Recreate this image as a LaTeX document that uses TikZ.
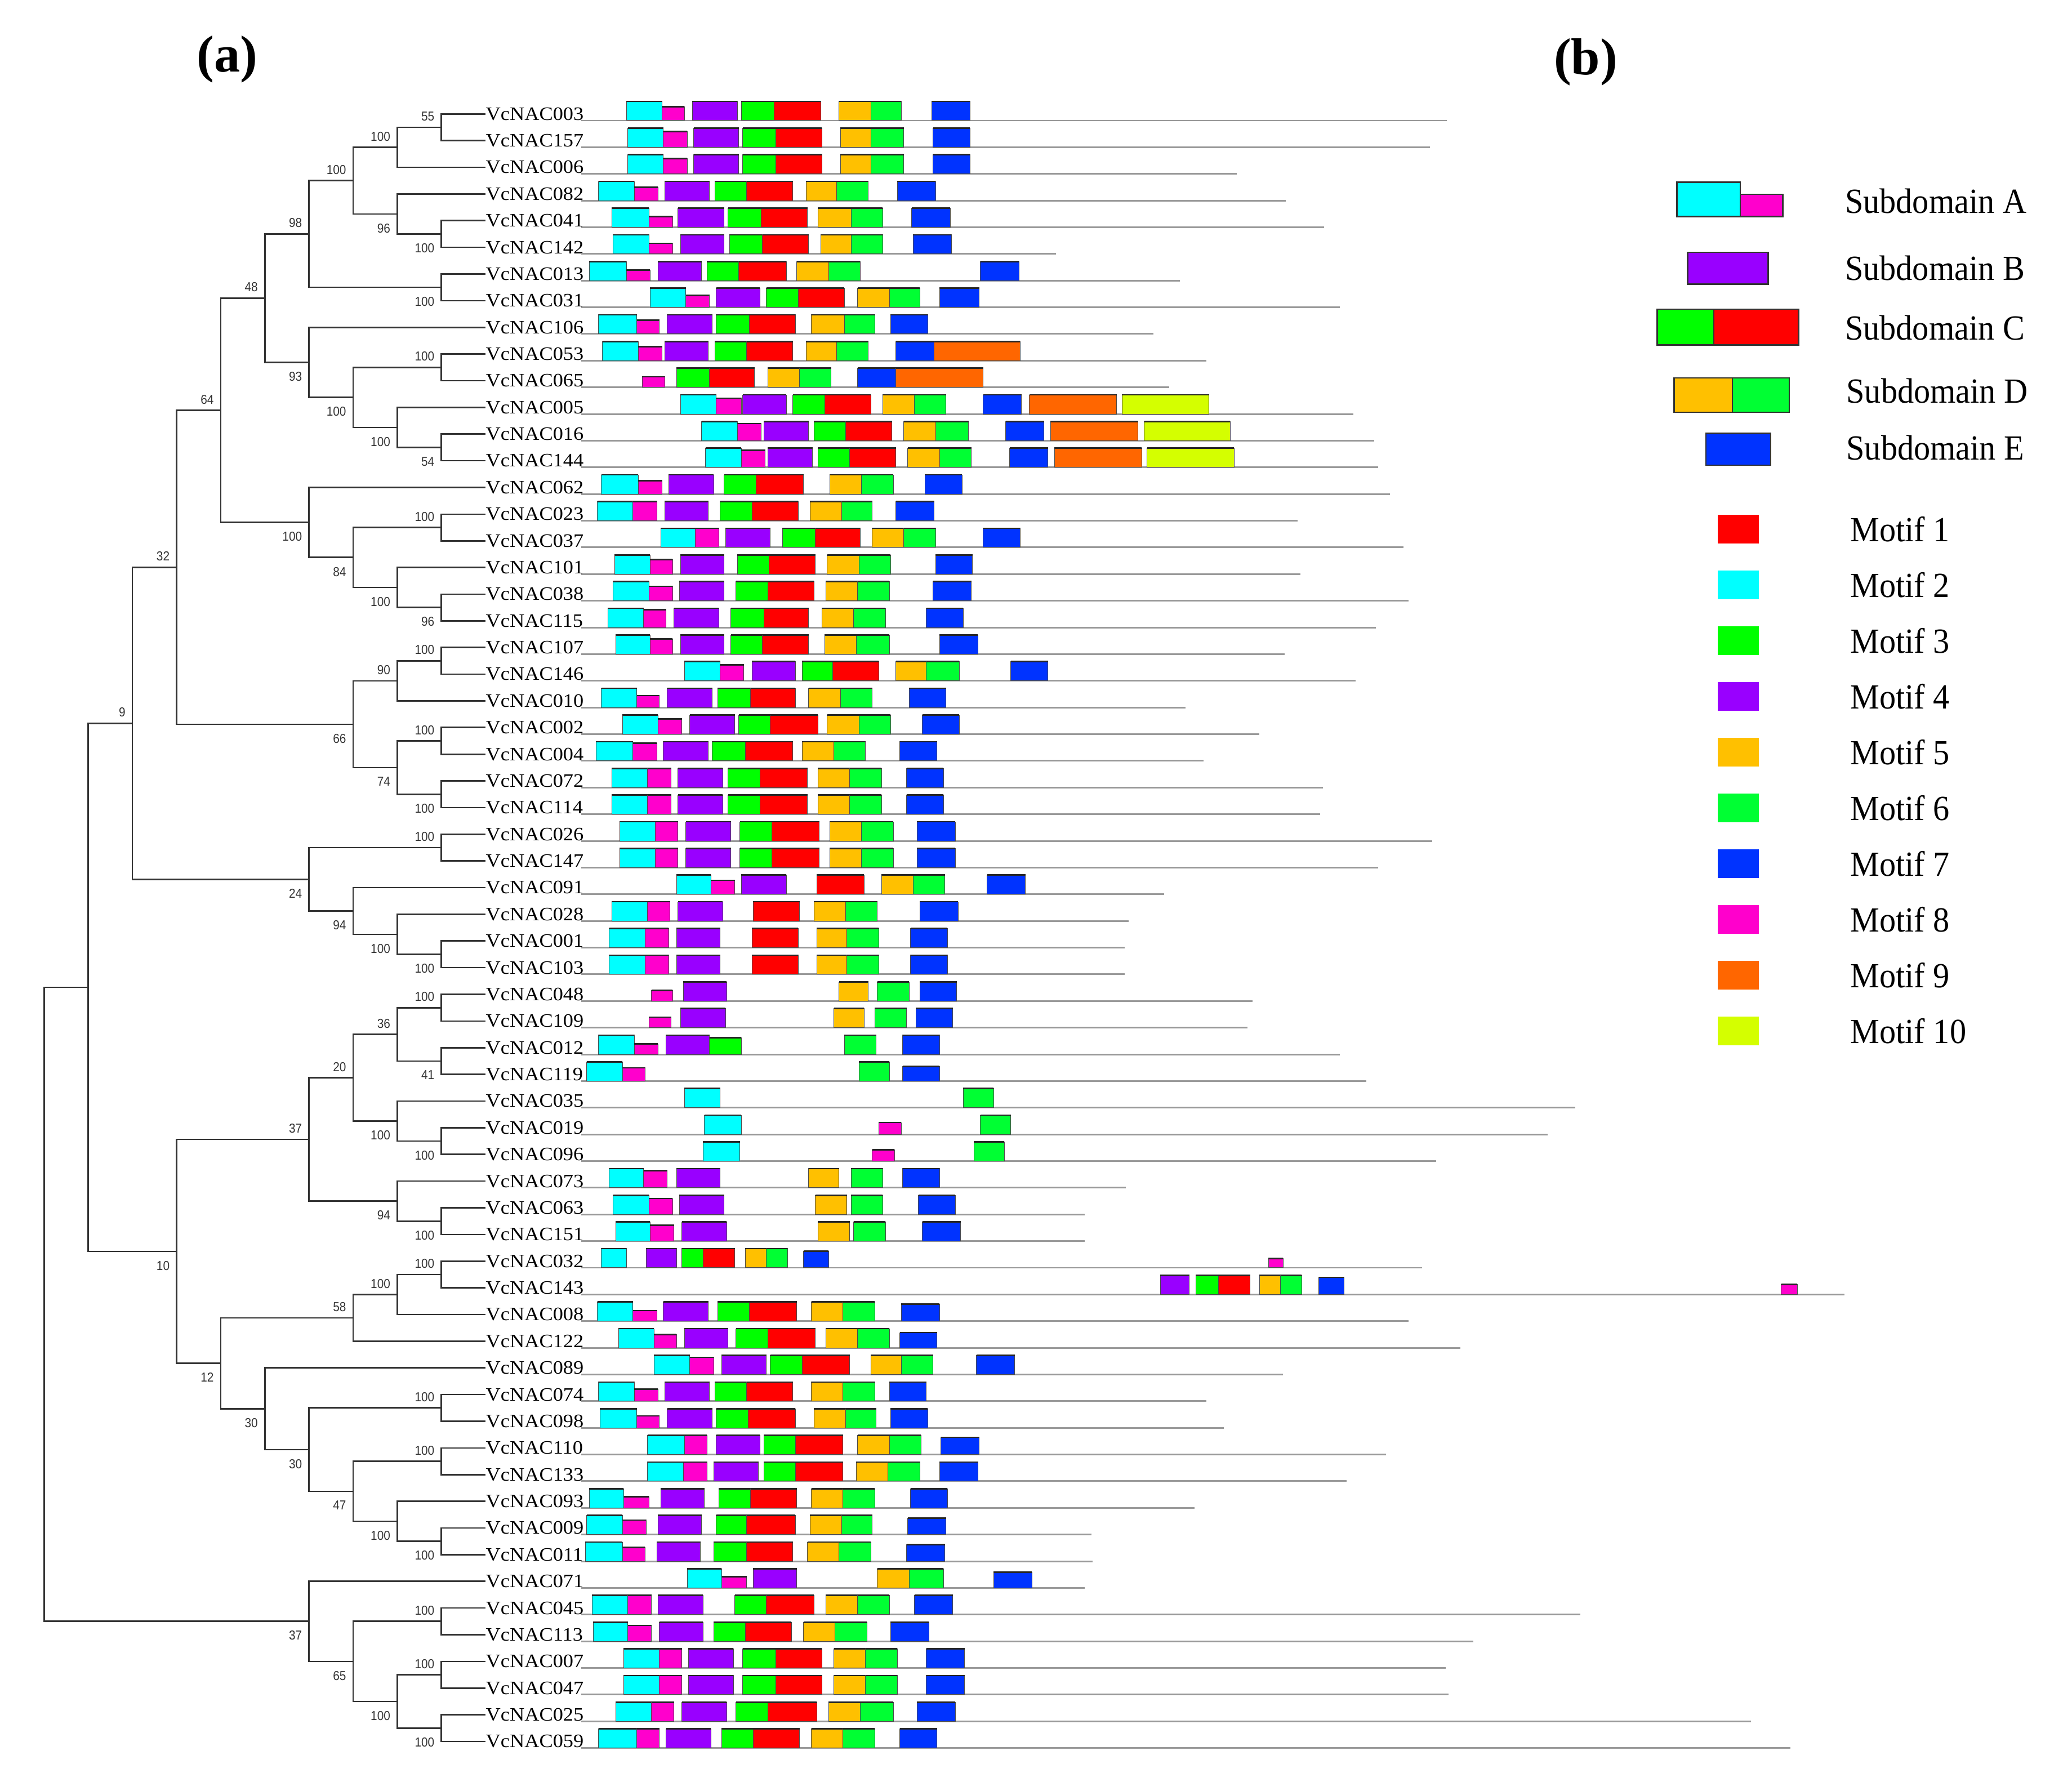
\documentclass[tikz,border=0pt]{standalone}
\usepackage{fontspec}
\setmainfont{Liberation Serif}
\newfontfamily\leaffont[FakeStretch=1.08]{Liberation Serif}
\newfontfamily\bsfont[FakeStretch=0.9]{Liberation Sans}
\newfontfamily\legfont[FakeStretch=0.93]{Liberation Serif}
\usetikzlibrary{calc}

\definecolor{mred}{HTML}{FF0000}
\definecolor{mcyan}{HTML}{00FFFF}
\definecolor{mgreen}{HTML}{00FF00}
\definecolor{mviolet}{HTML}{9900FF}
\definecolor{morange}{HTML}{FFC000}
\definecolor{mgreenb}{HTML}{00FF33}
\definecolor{mblue}{HTML}{0033FF}
\definecolor{mpink}{HTML}{FF00CC}
\definecolor{mrust}{HTML}{FF6600}
\definecolor{mlime}{HTML}{D4FF00}

\newcommand{\cladejoin}[4]{%
  \coordinate (tmp) at ($(#3)!0.5!(#4)$);
  \coordinate (#1) at (tmp -| lv#2);
  \draw[branch] (#3) -| (#1) |- (#4);}
\newcommand{\clade}[6]{%
  \cladejoin{#1}{#2}{#3}{#4}
  \node[bs#6] (#1-bs) at (#1) {#5};}
\newcommand{\motifrow}[2]{%
  \pgfmathsetmacro{\rowy}{91.2+20.19*(#1-1)}
  \foreach \xa/\xb/\ms in {#2}{
    \draw[mbox,motif/.expand once=\ms] (\xa,\rowy) rectangle (\xb,\rowy-\boxh);
    \draw[capline,motif/.expand once=\ms] (\xa,\rowy-\boxh) -- (\xb,\rowy-\boxh);
  }}

\begin{document}
\begin{tikzpicture}[
    x=0.025cm, y=-0.025cm,
    branch/.style={draw=black!80, line width=0.8pt},
    leaf/.style={anchor=west, inner sep=0pt, font=\leaffont\fontsize{10.2}{12}\selectfont},
    bs/.style={inner sep=0pt, text=black!80, font=\bsfont\fontsize{7}{8}\selectfont},
    bsabove/.style={bs, anchor=south east, shift={(-5,-4.5)}},
    bsbelow/.style={bs, anchor=north east, shift={(-5,7)}},
    backbone/.style={draw=black!40, line width=0.9pt},
    hgt/.store in=\boxh,
    motif/.style={#1},
    mbox/.style={draw=black!70, line width=0.3pt},
    capline/.style={draw=black!85, line width=0.8pt},
    m1/.style={fill=mred, hgt=#1}, m1/.default=14.5,
    m2/.style={fill=mcyan, hgt=#1}, m2/.default=14.5,
    m3/.style={fill=mgreen, hgt=#1}, m3/.default=14.5,
    m4/.style={fill=mviolet, hgt=#1}, m4/.default=14.5,
    m5/.style={fill=morange, hgt=#1}, m5/.default=14.5,
    m6/.style={fill=mgreenb, hgt=#1}, m6/.default=14.5,
    m7/.style={fill=mblue, hgt=#1}, m7/.default=14.5,
    m8/.style={fill=mpink, hgt=#1}, m8/.default=14.5,
    m9/.style={fill=mrust, hgt=#1}, m9/.default=14.5,
    m10/.style={fill=mlime, hgt=#1}, m10/.default=14.5,
    lgbox/.style={draw=black!80, line width=0.8pt},
    lgtext/.style={anchor=west, inner sep=0pt, font=\legfont\fontsize{19}{22}\selectfont},
    title/.style={font=\bfseries\fontsize{28}{30}\selectfont}
]
\useasboundingbox (0,0) rectangle (1568,1355);

\node[title] (tita) at (172,45) {(a)};
\node[title] (titb) at (1200,47) {(b)};

\foreach \k in {1,...,10}
  \coordinate (lv\k) at ({367.4-33.4*\k},0);

\foreach \n/\e [count=\i] in {VcNAC003/1095, VcNAC157/1082, VcNAC006/936, VcNAC082/973,
    VcNAC041/1002, VcNAC142/799, VcNAC013/893, VcNAC031/1014, VcNAC106/873, VcNAC053/913,
    VcNAC065/885, VcNAC005/1024, VcNAC016/1040, VcNAC144/1043, VcNAC062/1052, VcNAC023/982,
    VcNAC037/1062, VcNAC101/984, VcNAC038/1066, VcNAC115/1041, VcNAC107/972, VcNAC146/1026,
    VcNAC010/897, VcNAC002/953, VcNAC004/911, VcNAC072/1001, VcNAC114/999, VcNAC026/1084,
    VcNAC147/1043, VcNAC091/881, VcNAC028/854, VcNAC001/851, VcNAC103/851, VcNAC048/948,
    VcNAC109/944, VcNAC012/1014, VcNAC119/1034, VcNAC035/1192, VcNAC019/1171, VcNAC096/1087,
    VcNAC073/852, VcNAC063/821, VcNAC151/821, VcNAC032/1076, VcNAC143/1396, VcNAC008/1066,
    VcNAC122/1105, VcNAC089/971, VcNAC074/913, VcNAC098/926, VcNAC110/1049, VcNAC133/1019,
    VcNAC093/904, VcNAC009/826, VcNAC011/827, VcNAC071/821, VcNAC045/1196, VcNAC113/1115,
    VcNAC007/1094, VcNAC047/1096, VcNAC025/1325, VcNAC059/1355} {
  \node[leaf] (\n) at (367.4,{86.2+20.19*(\i-1)}) {\n};
  \draw[backbone] (440,{91.2+20.19*(\i-1)}) -- (\e,{91.2+20.19*(\i-1)});
}

\clade{a1}{1}{VcNAC003}{VcNAC157}{55}{above}
\clade{a2}{2}{a1}{VcNAC006}{100}{above}
\clade{a3}{1}{VcNAC041}{VcNAC142}{100}{below}
\clade{a4}{2}{VcNAC082}{a3}{96}{below}
\clade{a5}{3}{a2}{a4}{100}{above}
\clade{a6}{1}{VcNAC013}{VcNAC031}{100}{below}
\clade{a7}{4}{a5}{a6}{98}{above}
\clade{a8}{1}{VcNAC053}{VcNAC065}{100}{above}
\clade{a9}{1}{VcNAC016}{VcNAC144}{54}{below}
\clade{a10}{2}{VcNAC005}{a9}{100}{below}
\clade{a11}{3}{a8}{a10}{100}{below}
\clade{a12}{4}{VcNAC106}{a11}{93}{below}
\clade{a13}{5}{a7}{a12}{48}{above}
\clade{a14}{1}{VcNAC023}{VcNAC037}{100}{above}
\clade{a15}{1}{VcNAC038}{VcNAC115}{96}{below}
\clade{a16}{2}{VcNAC101}{a15}{100}{below}
\clade{a17}{3}{a14}{a16}{84}{below}
\clade{a18}{4}{VcNAC062}{a17}{100}{below}
\clade{a19}{6}{a13}{a18}{64}{above}
\clade{a20}{1}{VcNAC107}{VcNAC146}{100}{above}
\clade{a21}{2}{a20}{VcNAC010}{90}{above}
\clade{a22}{1}{VcNAC002}{VcNAC004}{100}{above}
\clade{a23}{1}{VcNAC072}{VcNAC114}{100}{below}
\clade{a24}{2}{a22}{a23}{74}{below}
\clade{a25}{3}{a21}{a24}{66}{below}
\clade{a26}{7}{a19}{a25}{32}{above}
\clade{a27}{1}{VcNAC026}{VcNAC147}{100}{above}
\clade{a28}{1}{VcNAC001}{VcNAC103}{100}{below}
\clade{a29}{2}{VcNAC028}{a28}{100}{below}
\clade{a30}{3}{VcNAC091}{a29}{94}{below}
\clade{a31}{4}{a27}{a30}{24}{below}
\clade{a32}{8}{a26}{a31}{9}{above}
\clade{a33}{1}{VcNAC048}{VcNAC109}{100}{above}
\clade{a34}{1}{VcNAC012}{VcNAC119}{41}{below}
\clade{a35}{2}{a33}{a34}{36}{above}
\clade{a36}{1}{VcNAC019}{VcNAC096}{100}{below}
\clade{a37}{2}{VcNAC035}{a36}{100}{below}
\clade{a38}{3}{a35}{a37}{20}{above}
\clade{a39}{1}{VcNAC063}{VcNAC151}{100}{below}
\clade{a40}{2}{VcNAC073}{a39}{94}{below}
\clade{a41}{4}{a38}{a40}{37}{above}
\clade{a42}{1}{VcNAC032}{VcNAC143}{100}{above}
\clade{a43}{2}{a42}{VcNAC008}{100}{above}
\clade{a44}{3}{a43}{VcNAC122}{58}{above}
\clade{a45}{1}{VcNAC074}{VcNAC098}{100}{above}
\clade{a46}{1}{VcNAC110}{VcNAC133}{100}{above}
\clade{a47}{1}{VcNAC009}{VcNAC011}{100}{below}
\clade{a48}{2}{VcNAC093}{a47}{100}{below}
\clade{a49}{3}{a46}{a48}{47}{below}
\clade{a50}{4}{a45}{a49}{30}{below}
\clade{a51}{5}{VcNAC089}{a50}{30}{below}
\clade{a52}{6}{a44}{a51}{12}{below}
\clade{a53}{7}{a41}{a52}{10}{below}
\cladejoin{a54}{9}{a32}{a53}
\clade{a55}{1}{VcNAC045}{VcNAC113}{100}{above}
\clade{a56}{1}{VcNAC007}{VcNAC047}{100}{above}
\clade{a57}{1}{VcNAC025}{VcNAC059}{100}{below}
\clade{a58}{2}{a56}{a57}{100}{below}
\clade{a59}{3}{a55}{a58}{65}{below}
\clade{a60}{4}{VcNAC071}{a59}{37}{below}
\cladejoin{root}{10}{a54}{a60}

\motifrow{1}{474/501/m2, 501/518/m8=10.5, 524/558/m4, 561/586/m3, 586/621/m1, 635/659/m5, 659/682/m6, 705/734/m7}
\motifrow{2}{475/502/m2, 502/520/m8=12, 525/559/m4, 562/587/m3, 587/622/m1, 636/659/m5, 659/684/m6, 706/734/m7}
\motifrow{3}{475/502/m2, 502/520/m8=11.5, 525/559/m4, 562/587/m3, 587/622/m1, 636/659/m5, 659/684/m6, 706/734/m7}
\motifrow{4}{453/480/m2, 480/498/m8=10, 503/537/m4, 541/565/m3, 565/600/m1, 610/633/m5, 633/657/m6, 679/708/m7}
\motifrow{5}{463/491/m2, 491/509/m8=8, 513/548/m4, 551/576/m3, 576/611/m1, 619/644/m5, 644/668/m6, 690/719/m7}
\motifrow{6}{464/491/m2, 491/509/m8=8, 515/548/m4, 552/577/m3, 577/612/m1, 621/644/m5, 644/668/m6, 691/720/m7}
\motifrow{7}{446/474/m2, 474/492/m8=8, 498/531/m4, 535/559/m3, 559/595/m1, 603/627/m5, 627/651/m6, 742/771/m7}
\motifrow{8}{492/519/m2, 519/537/m8=9, 542/575/m4, 580/604/m3, 604/639/m1, 649/673/m5, 673/696/m6, 711/741/m7}
\motifrow{9}{453/482/m2, 482/499/m8=10.5, 505/539/m4, 542/567/m3, 567/602/m1, 614/639/m5, 639/662/m6, 674/702/m7}
\motifrow{10}{456/483/m2, 483/501/m8=10.5, 503/536/m4, 541/565/m3, 565/600/m1, 610/633/m5, 633/657/m6, 678/707/m7, 707/772/m9}
\motifrow{11}{486/503/m8=8, 512/537/m3, 537/571/m1, 581/605/m5, 605/629/m6, 649/678/m7, 678/744/m9}
\motifrow{12}{515/542/m2, 542/561/m8=12, 562/595/m4, 600/624/m3, 624/659/m1, 668/692/m5, 692/716/m6, 744/773/m7, 779/845/m9, 849/915/m10}
\motifrow{13}{531/558/m2, 558/576/m8=13, 578/612/m4, 616/640/m3, 640/675/m1, 684/708/m5, 708/733/m6, 761/790/m7, 795/861/m9, 866/931/m10}
\motifrow{14}{534/561/m2, 561/579/m8=13, 581/615/m4, 619/643/m3, 643/678/m1, 687/711/m5, 711/735/m6, 764/793/m7, 798/864/m9, 868/934/m10}
\motifrow{15}{455/483/m2, 483/501/m8=10, 506/540/m4, 548/572/m3, 572/608/m1, 628/652/m5, 652/676/m6, 700/728/m7}
\motifrow{16}{452/479/m2, 479/497/m8, 503/536/m4, 545/569/m3, 569/604/m1, 613/637/m5, 637/660/m6, 678/707/m7}
\motifrow{17}{500/526/m2, 526/544/m8, 549/583/m4, 592/617/m3, 617/651/m1, 660/684/m5, 684/708/m6, 744/772/m7}
\motifrow{18}{465/492/m2, 492/509/m8=11, 515/548/m4, 558/582/m3, 582/617/m1, 626/650/m5, 650/674/m6, 708/736/m7}
\motifrow{19}{464/491/m2, 491/509/m8=11, 514/548/m4, 557/581/m3, 581/616/m1, 625/649/m5, 649/673/m6, 706/735/m7}
\motifrow{20}{460/487/m2, 487/504/m8=13.5, 510/544/m4, 553/578/m3, 578/612/m1, 622/646/m5, 646/670/m6, 701/729/m7}
\motifrow{21}{466/492/m2, 492/509/m8=11.5, 515/548/m4, 553/577/m3, 577/612/m1, 624/648/m5, 648/673/m6, 711/740/m7}
\motifrow{22}{518/545/m2, 545/563/m8=12, 569/602/m4, 607/630/m3, 630/665/m1, 678/701/m5, 701/726/m6, 765/793/m7}
\motifrow{23}{455/482/m2, 482/499/m8=9, 505/539/m4, 543/568/m3, 568/602/m1, 612/636/m5, 636/660/m6, 688/716/m7}
\motifrow{24}{471/498/m2, 498/516/m8=11.5, 522/556/m4, 559/583/m3, 583/619/m1, 626/650/m5, 650/674/m6, 698/726/m7}
\motifrow{25}{451/479/m2, 479/497/m8=13.5, 502/536/m4, 539/564/m3, 564/600/m1, 607/631/m5, 631/655/m6, 681/709/m7}
\motifrow{26}{463/490/m2, 490/508/m8, 513/547/m4, 551/575/m3, 575/611/m1, 619/643/m5, 643/667/m6, 686/714/m7}
\motifrow{27}{463/490/m2, 490/508/m8, 513/547/m4, 551/575/m3, 575/611/m1, 619/643/m5, 643/667/m6, 686/714/m7}
\motifrow{28}{469/496/m2, 496/513/m8, 519/553/m4, 560/584/m3, 584/620/m1, 628/652/m5, 652/676/m6, 694/723/m7}
\motifrow{29}{469/496/m2, 496/513/m8, 519/553/m4, 560/584/m3, 584/620/m1, 628/652/m5, 652/676/m6, 694/723/m7}
\motifrow{30}{512/538/m2, 538/556/m8=10.5, 561/595/m4, 618/654/m1, 667/691/m5, 691/715/m6, 747/776/m7}
\motifrow{31}{463/490/m2, 490/507/m8, 513/547/m4, 570/605/m1, 616/640/m5, 640/664/m6, 696/725/m7}
\motifrow{32}{461/488/m2, 488/506/m8, 512/545/m4, 569/604/m1, 618/641/m5, 641/665/m6, 689/717/m7}
\motifrow{33}{461/488/m2, 488/506/m8, 512/545/m4, 569/604/m1, 618/641/m5, 641/665/m6, 689/717/m7}
\motifrow{34}{493/509/m8=8, 517/550/m4, 635/657/m5, 664/688/m6, 696/724/m7}
\motifrow{35}{491/508/m8=8, 515/549/m4, 631/654/m5, 662/686/m6, 693/721/m7}
\motifrow{36}{453/480/m2, 480/498/m8=8, 504/537/m4, 537/561/m3=12.5, 639/663/m6, 683/711/m7}
\motifrow{37}{444/471/m2, 471/488/m8=10, 650/673/m6, 683/711/m7=11}
\motifrow{38}{518/545/m2, 729/752/m6}
\motifrow{39}{533/561/m2, 665/682/m8=9, 742/765/m6}
\motifrow{40}{532/560/m2, 660/677/m8=8.5, 737/760/m6}
\motifrow{41}{461/487/m2, 487/505/m8=13, 512/545/m4, 612/635/m5, 644/668/m6, 683/711/m7}
\motifrow{42}{464/491/m2, 491/509/m8=12, 514/548/m4, 617/641/m5, 644/668/m6, 695/723/m7}
\motifrow{43}{466/492/m2, 492/510/m8=12, 516/550/m4, 619/643/m5, 646/670/m6, 698/727/m7}
\motifrow{44}{455/474/m2, 489/512/m4, 516/532/m3, 532/556/m1, 564/580/m5, 580/596/m6, 608/627/m7=12.5, 960/971/m8=7}
\motifrow{45}{878/900/m4, 905/922/m3, 922/946/m1, 953/969/m5, 969/985/m6, 998/1017/m7=13, 1348/1360/m8=7.5}
\motifrow{46}{452/479/m2, 479/497/m8=8, 502/536/m4, 543/567/m3, 567/603/m1, 614/638/m5, 638/662/m6, 682/711/m7=13}
\motifrow{47}{468/495/m2, 495/512/m8=10, 518/551/m4, 557/581/m3, 581/617/m1, 625/649/m5, 649/673/m6, 681/709/m7=11.5}
\motifrow{48}{495/522/m2, 522/540/m8=13, 546/580/m4, 583/607/m3, 607/643/m1, 659/682/m5, 682/706/m6, 739/768/m7}
\motifrow{49}{453/480/m2, 480/498/m8=9, 503/537/m4, 541/565/m3, 565/600/m1, 614/638/m5, 638/662/m6, 673/701/m7}
\motifrow{50}{454/482/m2, 482/499/m8=9, 505/539/m4, 542/566/m3, 566/602/m1, 616/640/m5, 640/663/m6, 674/702/m7}
\motifrow{51}{490/518/m2, 518/535/m8, 542/575/m4, 578/602/m3, 602/638/m1, 649/673/m5, 673/697/m6, 712/741/m7=13}
\motifrow{52}{490/517/m2, 517/535/m8, 540/574/m4, 578/602/m3, 602/638/m1, 648/672/m5, 672/696/m6, 711/740/m7}
\motifrow{53}{446/472/m2, 472/491/m8=8.5, 500/533/m4, 544/568/m3, 568/603/m1, 614/638/m5, 638/662/m6, 689/717/m7}
\motifrow{54}{444/471/m2, 471/489/m8=11, 498/531/m4, 542/565/m3, 565/602/m1, 613/637/m5, 637/660/m6, 687/716/m7=12.5}
\motifrow{55}{443/471/m2, 471/488/m8=10.5, 497/530/m4, 540/565/m3, 565/600/m1, 611/635/m5, 635/659/m6, 686/715/m7=12.5}
\motifrow{56}{520/546/m2, 546/565/m8=8.5, 570/603/m4, 664/688/m5, 688/714/m6, 752/781/m7=12}
\motifrow{57}{448/475/m2, 475/493/m8, 498/532/m4, 556/580/m3, 580/616/m1, 625/649/m5, 649/673/m6, 692/721/m7}
\motifrow{58}{449/475/m2, 475/493/m8=12, 499/532/m4, 540/564/m3, 564/599/m1, 608/632/m5, 632/656/m6, 674/703/m7}
\motifrow{59}{472/499/m2, 499/516/m8, 521/555/m4, 562/587/m3, 587/622/m1, 631/655/m5, 655/679/m6, 701/730/m7}
\motifrow{60}{472/499/m2, 499/516/m8, 521/555/m4, 562/587/m3, 587/622/m1, 631/655/m5, 655/679/m6, 701/730/m7}
\motifrow{61}{466/493/m2, 493/510/m8, 516/550/m4, 557/581/m3, 581/618/m1, 627/651/m5, 651/676/m6, 694/723/m7}
\motifrow{62}{453/482/m2, 482/499/m8, 504/538/m4, 546/570/m3, 570/605/m1, 614/638/m5, 638/662/m6, 681/709/m7}

\draw[lgbox, fill=mcyan] (1269,138) rectangle (1317,164);
\draw[lgbox, fill=mpink] (1317,147) rectangle (1349,164);
\draw[lgbox, fill=mviolet] (1277,191) rectangle (1338,215);
\draw[lgbox, fill=mgreen] (1254,234) rectangle (1297,261);
\draw[lgbox, fill=mred] (1297,234) rectangle (1361,261);
\draw[lgbox, fill=morange] (1267,286) rectangle (1311,312);
\draw[lgbox, fill=mgreenb] (1311,286) rectangle (1354,312);
\draw[lgbox, fill=mblue] (1291,328) rectangle (1340,352);
\node[lgtext] (subA) at (1396,152) {Subdomain A};
\node[lgtext] (subB) at (1396,203) {Subdomain B};
\node[lgtext] (subC) at (1396,248) {Subdomain C};
\node[lgtext] (subD) at (1397,296) {Subdomain D};
\node[lgtext] (subE) at (1397,339) {Subdomain E};

\foreach \col [count=\k] in {mred,mcyan,mgreen,mviolet,morange,mgreenb,mblue,mpink,mrust,mlime} {
  \fill[\col] (1300,{389.5+42.2*(\k-1)}) rectangle (1331,{411.2+42.2*(\k-1)});
  \node[lgtext] (motif\k) at (1400,{400.4+42.2*(\k-1)}) {Motif \k};
}

\end{tikzpicture}
\end{document}
